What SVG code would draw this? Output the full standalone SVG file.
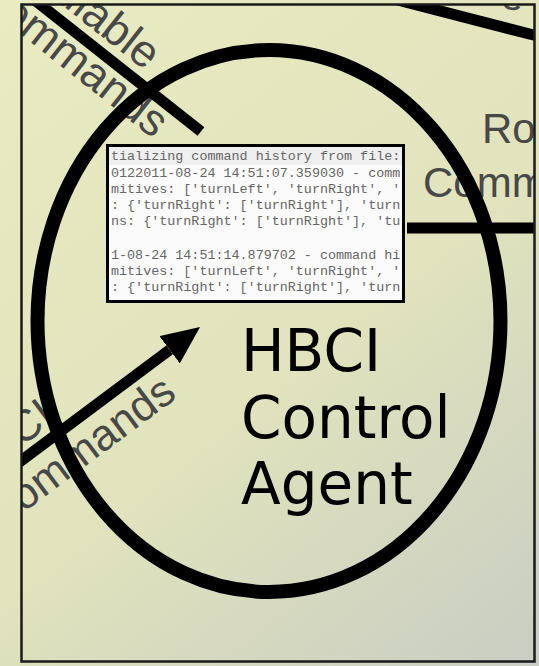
<svg xmlns="http://www.w3.org/2000/svg" width="539" height="666" viewBox="0 0 539 666">
  <defs>
    <linearGradient id="bg" x1="0" y1="0" x2="539" y2="666" gradientUnits="userSpaceOnUse">
      <stop offset="0" stop-color="#e9ecc1"/>
      <stop offset="0.55" stop-color="#e0e3bc"/>
      <stop offset="1" stop-color="#c9cdc3"/>
    </linearGradient>
    <clipPath id="frame">
      <rect x="21.5" y="4.5" width="513" height="657"/>
    </clipPath>
    <clipPath id="shot">
      <rect x="109" y="147" width="293" height="153"/>
    </clipPath>
    <marker id="head" viewBox="0 0 38 34" refX="0" refY="17" markerWidth="38" markerHeight="34" markerUnits="userSpaceOnUse" orient="auto">
      <path d="M0,0 L38,17 L0,34 z" fill="#000"/>
    </marker>
    <style>
      .lbl { font-family: "Liberation Sans", Arial, sans-serif; font-size: 42px; fill: #484848; }
      .rot { font-size: 44px; }
      .rot-top { font-size: 45px; }
      .conn { stroke: #000; stroke-width: 11; fill: none; }
      .agent-text { font-family: "DejaVu Sans", Verdana, sans-serif; font-size: 58px; fill: #000; }
      .log { font-family: "Liberation Mono", "Courier New", monospace; font-size: 13.4px; fill: #666; }
    </style>
  </defs>

  <rect x="0" y="0" width="539" height="666" fill="url(#bg)"/>

  <g clip-path="url(#frame)">
    <g id="label-available">
      <g transform="translate(45 8.3) rotate(38.3)">
        <text class="lbl rot-top" x="-64" y="-13">Available</text>
        <text class="lbl rot-top" x="-64" y="35.5">Commands</text>
      </g>
    </g>
    <g id="label-top-right">
      <text class="lbl" text-anchor="middle" transform="translate(510 9.5) rotate(14.5)">e</text>
    </g>
    <g id="label-robot">
      <text class="lbl" x="482" y="143">Robot</text>
      <text class="lbl" x="423" y="197">Commands</text>
    </g>
    <g id="label-hbci">
      <g transform="translate(22 460.2) rotate(-36.8)">
        <text class="lbl rot" x="-54" y="-11">HBCI</text>
        <text class="lbl rot" x="-62" y="43">Commands</text>
      </g>
    </g>

    <g id="connectors">
      <line class="conn" x1="20" y1="-11.5" x2="201" y2="131.5"/>
      <line class="conn" x1="390" y1="-2" x2="545" y2="38"/>
      <line class="conn" x1="407" y1="228" x2="545" y2="228"/>
      <line class="conn" x1="-6.6" y1="481.6" x2="169.6" y2="349.8" marker-end="url(#head)"/>
    </g>

    <g id="log-screenshot">
      <rect x="107.5" y="145.5" width="296" height="156" fill="#fbfbfb" stroke="#000" stroke-width="3"/>
      <rect x="109" y="147" width="293" height="18" fill="#efefef"/>
      <g clip-path="url(#shot)">
        <text class="log" x="111" y="160">tializing command history from file:</text>
        <text class="log" x="111" y="176.5">0122011-08-24 14:51:07.359030 - comm</text>
        <text class="log" x="111" y="193">mitives: ['turnLeft', 'turnRight', '</text>
        <text class="log" x="111" y="209">: {'turnRight': ['turnRight'], 'turn</text>
        <text class="log" x="111" y="225">ns: {'turnRight': ['turnRight'], 'tu</text>
        <text class="log" x="111" y="258.5">1-08-24 14:51:14.879702 - command hi</text>
        <text class="log" x="111" y="275">mitives: ['turnLeft', 'turnRight', '</text>
        <text class="log" x="111" y="291">: {'turnRight': ['turnRight'], 'turn</text>
      </g>
    </g>

    <g id="agent">
      <ellipse cx="269" cy="321" rx="231.5" ry="271" fill="none" stroke="#000" stroke-width="14"/>
      <text class="agent-text" x="241" y="371">HBCI</text>
      <text class="agent-text" x="241" y="437.5">Control</text>
      <text class="agent-text" x="241" y="504">Agent</text>
    </g>
  </g>

  <rect id="frame-border" x="21.5" y="4.5" width="513" height="657" fill="none" stroke="#1a1a1a" stroke-width="2.5"/>
</svg>
